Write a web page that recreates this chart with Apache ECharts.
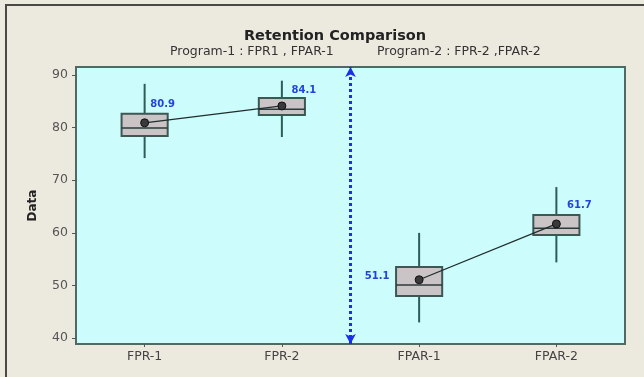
<!DOCTYPE html>
<html>
<head>
<meta charset="utf-8">
<script src="https://cdn.jsdelivr.net/npm/echarts@6/dist/echarts.min.js"></script>
<style>
  html, body { margin: 0; padding: 0; background: #ece9df; }
  #main { width: 644px; height: 377px; }
</style>
</head>
<body>
<div id="main"></div>
<script>
var chart = echarts.init(document.getElementById('main'));

// groups on the x axis
var categories = ['FPR-1', 'FPR-2', 'FPAR-1', 'FPAR-2'];
// box values: [min, Q1, median, Q3, max]
var boxValues = [
    [74.2, 78.4, 79.9, 82.6, 88.3],
    [78.2, 82.4, 83.5, 85.6, 88.9],
    [43.0, 48.0, 50.1, 53.5, 60.0],
    [54.4, 59.6, 60.9, 63.4, 68.7]
];
var means = [80.9, 84.1, 51.1, 61.7];
var yTicks = [40, 50, 60, 70, 80, 90];
// first program owns the first two groups
var splitAt = 2;

var boxData = boxValues.map(function (b, i) { return [i].concat(b); });

// mean line is broken between the two programs
var mean1 = means.map(function (m, i) { return i < splitAt ? m : '-'; });
var mean2 = means.map(function (m, i) { return i >= splitAt ? m : '-'; });

var labelOffsets = [[18, -18], [22, -16], [-42, -3], [23, -19]];

function meanData(arr) {
    return arr.map(function (v, i) {
        if (v === '-') return v;
        return { value: v, label: { offset: labelOffsets[i] } };
    });
}

function renderBox(params, api) {
    var x = api.value(0);
    var pMin = api.coord([x, api.value(1)]);
    var pQ1 = api.coord([x, api.value(2)]);
    var pMed = api.coord([x, api.value(3)]);
    var pQ3 = api.coord([x, api.value(4)]);
    var pMax = api.coord([x, api.value(5)]);
    var half = api.size([1, 0])[0] * 0.168;
    var cx = pMed[0];
    var whisker = { stroke: '#2e5d58', lineWidth: 2 };
    return {
        type: 'group',
        children: [
            { type: 'line', shape: { x1: cx, y1: pMax[1], x2: cx, y2: pQ3[1] }, style: whisker },
            { type: 'line', shape: { x1: cx, y1: pQ1[1], x2: cx, y2: pMin[1] }, style: whisker },
            {
                type: 'rect',
                shape: { x: cx - half, y: pQ3[1], width: half * 2, height: pQ1[1] - pQ3[1] },
                style: { fill: '#cbc4c6', stroke: '#3d5753', lineWidth: 2 }
            },
            { type: 'line', shape: { x1: cx - half, y1: pMed[1], x2: cx + half, y2: pMed[1] }, style: { stroke: '#2b3b3a', lineWidth: 1.5 } }
        ]
    };
}

var meanLabel = {
    show: true,
    position: 'inside',
    formatter: '{c}',
    color: '#2244dd',
    fontSize: 10,
    fontWeight: 'bold',
    fontFamily: 'DejaVu Sans'
};

var subStyle = { fontSize: 12.5, fontWeight: 'normal', color: '#333', fontFamily: 'DejaVu Sans' };

option = {
    backgroundColor: '#ece9df',
    animation: false,
    title: [
        {
            text: 'Retention Comparison',
            left: 330, top: 24, textAlign: 'center',
            textStyle: { fontSize: 14.5, fontWeight: 'bold', color: '#222', fontFamily: 'DejaVu Sans' }
        },
        { text: 'Program-1 : FPR1 , FPAR-1', left: 165, top: 40, textStyle: subStyle },
        { text: 'Program-2 : FPR-2 ,FPAR-2', left: 372, top: 40, textStyle: subStyle }
    ],
    grid: {
        left: 76, right: 19, top: 67, bottom: 33,
        show: true,
        backgroundColor: '#ccfcfc',
        borderColor: '#4f6a65',
        borderWidth: 2
    },
    xAxis: [
        {
            type: 'category',
            data: categories,
            axisLine: { show: false },
            axisTick: { show: true, alignWithLabel: true, length: 3, lineStyle: { color: '#555' } },
            axisLabel: { color: '#444', fontSize: 12.5, fontFamily: 'DejaVu Sans', margin: 6 },
            splitLine: { show: false }
        },
        {
            type: 'value',
            min: 0,
            max: categories.length,
            show: false
        }
    ],
    yAxis: {
        type: 'value',
        min: 38.9,
        max: 91.5,
        name: 'Data',
        nameLocation: 'middle',
        nameGap: 37,
        nameTextStyle: { fontSize: 12, fontWeight: 'bold', color: '#222', fontFamily: 'DejaVu Sans' },
        axisLine: { show: false },
        axisTick: { show: true, length: 4, customValues: yTicks, lineStyle: { color: '#555' } },
        axisLabel: { color: '#555', fontSize: 12.5, fontFamily: 'DejaVu Sans', margin: 8, customValues: yTicks },
        splitLine: { show: false }
    },
    series: [
        {
            type: 'custom',
            renderItem: renderBox,
            encode: { x: 0, y: [1, 2, 3, 4, 5] },
            data: boxData,
            z: 2
        },
        {
            type: 'line',
            data: meanData(mean1),
            symbol: 'circle',
            symbolSize: 8,
            itemStyle: { color: '#3a3a3a', borderColor: '#111', borderWidth: 1 },
            lineStyle: { color: '#1f2d2c', width: 1.3 },
            label: meanLabel,
            z: 3
        },
        {
            type: 'line',
            data: meanData(mean2),
            symbol: 'circle',
            symbolSize: 8,
            itemStyle: { color: '#3a3a3a', borderColor: '#111', borderWidth: 1 },
            lineStyle: { color: '#1f2d2c', width: 1.3 },
            label: meanLabel,
            z: 3
        },
        {
            type: 'line',
            xAxisIndex: 1,
            data: [],
            symbol: 'none',
            markLine: {
                silent: true,
                symbol: ['arrow', 'arrow'],
                symbolSize: [8, 10],
                label: { show: false },
                lineStyle: { color: '#1a30e6', width: 3, type: 'dotted' },
                data: [{ xAxis: splitAt }]
            },
            z: 4
        }
    ],
    graphic: [
        { type: 'line', shape: { x1: 5, y1: 5, x2: 644, y2: 5 }, style: { stroke: '#4a4a44', lineWidth: 2 } },
        { type: 'line', shape: { x1: 6, y1: 5, x2: 6, y2: 377 }, style: { stroke: '#4a4a44', lineWidth: 2 } }
    ]
};

option && chart.setOption(option);
</script>
</body>
</html>
